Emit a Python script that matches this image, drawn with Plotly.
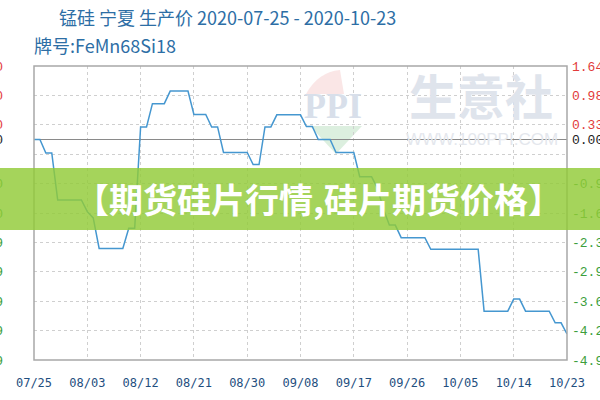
import plotly.graph_objects as go
import pandas as pd

title_line1 = "锰硅 宁夏 生产价 2020-07-25 - 2020-10-23"
title_line2 = "牌号:FeMn68Si18"
banner_text = "【期货硅片行情,硅片期货价格】"

start_date = "2020-07-25"
end_date = "2020-10-23"

# daily % change vs. 2020-07-25
pct_change = [
    0.00, 0.00, -0.30, -0.30, -1.35, -1.35, -1.35, -1.35, -1.35, -1.61,
    -1.75, -2.43, -2.43, -2.43, -2.43, -2.43, -1.98, -1.98, 0.28, 0.28,
    0.80, 0.80, 0.80, 1.08, 1.08, 1.08, 1.08, 0.56, 0.56, 0.56,
    0.28, 0.28, -0.29, -0.29, -0.29, -0.29, -0.29, -0.56, -0.56, 0.28,
    0.28, 0.55, 0.55, 0.55, 0.55, 0.55, 0.29, 0.29, 0.00, 0.00,
    0.00, -0.29, -0.29, -0.29, -0.29, -0.83, -0.83, -0.83, -1.09, -1.55,
    -1.91, -1.91, -2.19, -2.19, -2.19, -2.19, -2.19, -2.45, -2.45, -2.45,
    -2.45, -2.45, -2.45, -2.45, -2.45, -2.45, -3.83, -3.83, -3.83, -3.83,
    -3.83, -3.56, -3.56, -3.83, -3.83, -3.83, -3.83, -3.83, -4.09, -4.09,
    -4.34,
]
dates = pd.date_range(start_date, periods=len(pct_change), freq="D")

tick_dates = ["2020-07-25", "2020-08-03", "2020-08-12", "2020-08-21", "2020-08-30",
              "2020-09-08", "2020-09-17", "2020-09-26", "2020-10-05", "2020-10-14",
              "2020-10-23"]
tick_labels = ["07/25", "08/03", "08/12", "08/21", "08/30", "09/08", "09/17",
               "09/26", "10/05", "10/14", "10/23"]

pct_ticks = [1.64, 0.98, 0.33, 0.00, -0.33, -0.98, -1.64, -2.30, -2.95, -3.61, -4.26, -4.92]
pct_labels = ["1.64", "0.98", "0.33", "0.00", "", "-0.98", "-1.64", "-2.30",
              "-2.95", "-3.61", "-4.26", "-4.92"]
price_labels = ["6200", "6160", "6120", "6100", "", "6040", "6000", "5959",
                "5919", "5879", "5839", "5799"]

RED = "#e23b3b"
GREEN = "#3c9e3c"
BLACK = "#222222"


def colored(vals, labels):
    out = []
    for v, t in zip(vals, labels):
        c = RED if v > 0 else (BLACK if v == 0 else GREEN)
        out.append(f"<span style='color:{c}'>{t}</span>" if t else "")
    return out


# plot area geometry (px)
L, R, T, B = 34, 33, 66, 40
W, H = 600, 400
PW, PH = W - L - R, H - T - B


def px(x):
    return (x - L) / PW


def py(y):
    return (H - B - y) / PH


fig = go.Figure()
fig.add_trace(go.Scatter(
    x=dates, y=pct_change, mode="lines",
    line=dict(color="#4597d0", width=1.5),
    hoverinfo="skip", showlegend=False))
fig.add_trace(go.Scatter(
    x=dates, y=pct_change, mode="lines", yaxis="y2",
    line=dict(color="rgba(0,0,0,0)", width=0),
    hoverinfo="skip", showlegend=False))

grid_color = "#cfcfcf"
fig.update_layout(
    width=W, height=H,
    margin=dict(l=L, r=R, t=T, b=B),
    paper_bgcolor="white", plot_bgcolor="white",
    showlegend=False,
    title=dict(text=title_line1, xref="container", x=59 / W, xanchor="left",
               yref="container", y=1 - 18.5 / H, yanchor="middle",
               font=dict(family="Noto Sans CJK SC", size=18, color="#2d6ea5")),
    xaxis=dict(
        type="date", range=[start_date, end_date],
        tickvals=tick_dates, ticktext=tick_labels,
        showgrid=True, gridcolor=grid_color, griddash="3px,3px", gridwidth=1,
        zeroline=False, showline=False, ticks="",
        tickfont=dict(family="DejaVu Sans Mono", size=12, color="#1f4f80"),
        ticklabelstandoff=14, automargin=False,
    ),
    yaxis=dict(
        side="right", range=[-4.92, 1.64],
        tickvals=pct_ticks, ticktext=colored(pct_ticks, pct_labels),
        showgrid=True, gridcolor=grid_color, griddash="3px,3px", gridwidth=1,
        zeroline=True, zerolinecolor="#8a8a8a", zerolinewidth=1.2,
        showline=False, ticks="",
        tickfont=dict(family="Liberation Mono", size=13),
        ticklabelstandoff=4, automargin=False,
    ),
    yaxis2=dict(
        overlaying="y", side="left", range=[-4.92, 1.64],
        tickvals=pct_ticks, ticktext=colored(pct_ticks, price_labels),
        showgrid=False, zeroline=False, showline=False, ticks="",
        tickfont=dict(family="Liberation Mono", size=13),
        ticklabelstandoff=30, automargin=False,
    ),
)

shapes = []
# watermark: PPI logo pieces
shapes.append(dict(type="path", xref="paper", yref="paper", layer="below",
                   path=f"M {px(310)} {py(126)} L {px(362)} {py(126)} L {px(336)} {py(154)} Z",
                   fillcolor="rgba(205,232,210,0.7)", line=dict(width=0)))
shapes.append(dict(type="path", xref="paper", yref="paper", layer="below",
                   path=f"M {px(306)} {py(94)} Q {px(318)} {py(72)} {px(340)} {py(70)} L {px(344)} {py(94)} Z",
                   fillcolor="rgba(245,205,205,0.5)", line=dict(width=0)))
# frame
shapes.append(dict(type="rect", xref="paper", yref="paper", x0=0, x1=1, y0=0, y1=1,
                   line=dict(color="#a8a8a8", width=1.5), layer="above"))
# green banner
shapes.append(dict(type="rect", xref="paper", yref="paper",
                   x0=px(0), x1=px(600), y0=py(230), y1=py(168),
                   fillcolor="rgba(145,202,55,0.82)", line=dict(width=0), layer="above"))
fig.update_layout(shapes=shapes)

ann = []
ann.append(dict(text="<b>PPI</b>", xref="paper", yref="paper", x=px(333), y=py(106),
                xanchor="center", yanchor="middle",
                showarrow=False, font=dict(family="Liberation Serif", size=36, color="#d8dfea")))
ann.append(dict(text="<b>生意社</b>", xref="paper", yref="paper", x=px(481), y=py(94),
                xanchor="center", yanchor="middle",
                showarrow=False, font=dict(family="Noto Sans CJK SC", size=48, color="#dfe4ec")))
ann.append(dict(text="WWW.100PPI.COM", xref="paper", yref="paper", x=px(482), y=py(139),
                xanchor="center", yanchor="middle",
                showarrow=False, font=dict(family="Liberation Sans", size=17, color="#e4e7ed")))
ann.append(dict(text=title_line2, xref="paper", yref="paper", x=px(32), y=py(45),
                xanchor="left", yanchor="middle", align="left", showarrow=False,
                font=dict(family="Noto Sans CJK SC", size=18, color="#2d6ea5")))
ann.append(dict(text=f"<b>{banner_text}</b>", xref="paper", yref="paper", x=px(318), y=py(199),
                xanchor="center", yanchor="middle", showarrow=False,
                font=dict(family="Noto Sans CJK SC", size=34, color="white")))
fig.update_layout(annotations=ann)

fig.write_html("out.html", config={"displayModeBar": False},
               post_script="document.body.style.margin='0';document.body.style.padding='0';")
